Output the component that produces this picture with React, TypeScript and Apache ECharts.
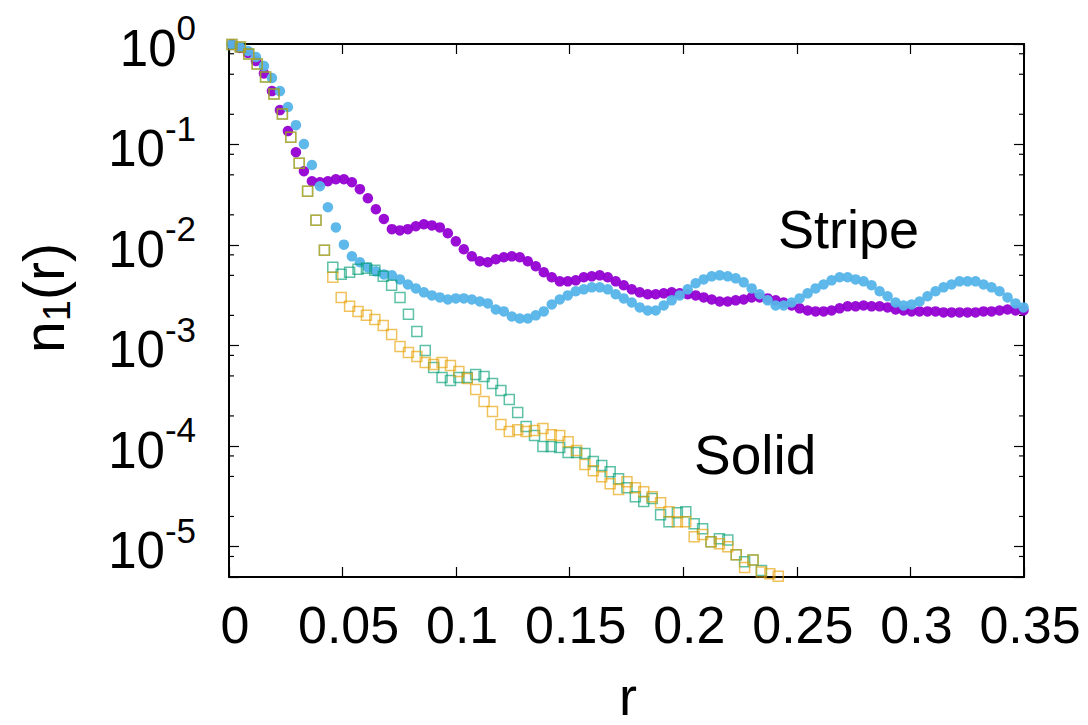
import React, { useEffect, useRef } from 'react';
import * as echarts from 'echarts';

// r grids (uniform sampling of the simulation data)
const R0 = 0.0013;
const CIRCLE_STEP = 0.00352;
const SQUARE_STEP = 0.0037;

// Stripe phase, dark violet filled circles
const stripeViolet = [
  0.99, 0.912, 0.814, 0.677, 0.51, 0.34, 0.22, 0.136, 0.0839, 0.0543,
  0.0432, 0.0422, 0.0432, 0.0452, 0.0452, 0.0422, 0.036, 0.0292, 0.0227, 0.0182,
  0.0144, 0.014, 0.0144, 0.0154, 0.0161, 0.0157, 0.015, 0.0131, 0.0109, 0.00908,
  0.00773, 0.0069, 0.00674, 0.00722, 0.00756, 0.00773, 0.00756, 0.0069, 0.00615, 0.00536,
  0.00478, 0.00436, 0.00436, 0.00446, 0.00478, 0.00489, 0.005, 0.00478, 0.00436, 0.00398,
  0.00363, 0.00339, 0.00324, 0.00324, 0.00331, 0.00339, 0.00331, 0.00324, 0.00316, 0.00302,
  0.00288, 0.00275, 0.00275, 0.00282, 0.00288, 0.00302, 0.00302, 0.00295, 0.00282, 0.00269,
  0.00251, 0.00235, 0.00224, 0.00219, 0.00219, 0.00224, 0.00235, 0.00246, 0.00246, 0.00251,
  0.00246, 0.00246, 0.0024, 0.00229, 0.00224, 0.00219, 0.00219, 0.00219, 0.00219, 0.00214,
  0.00214, 0.00214, 0.00214, 0.00214, 0.00219, 0.00219, 0.00224, 0.00229, 0.00224, 0.00224,
];

// Stripe phase, sky blue filled circles
const stripeBlue = [
  0.99, 0.933, 0.852, 0.742, 0.604, 0.459, 0.34, 0.236, 0.156, 0.101,
  0.0625, 0.0385, 0.0238, 0.015, 0.0101, 0.00773, 0.00674, 0.006, 0.00548, 0.00511,
  0.005, 0.00456, 0.00406, 0.00371, 0.00339, 0.00316, 0.00302, 0.00288, 0.00295, 0.00295,
  0.00288, 0.00275, 0.00263, 0.00229, 0.00219, 0.00195, 0.00186, 0.00186, 0.002, 0.00219,
  0.00257, 0.00288, 0.00316, 0.00347, 0.00363, 0.0038, 0.0038, 0.00363, 0.00324, 0.00295,
  0.00269, 0.0024, 0.00224, 0.00224, 0.00251, 0.00282, 0.00316, 0.00363, 0.00417, 0.00456,
  0.00489, 0.005, 0.00489, 0.00467, 0.00426, 0.00371, 0.00324, 0.00282, 0.00251, 0.00251,
  0.00269, 0.00295, 0.00331, 0.00371, 0.00406, 0.00446, 0.00478, 0.00478, 0.00456, 0.00436,
  0.00398, 0.00347, 0.0031, 0.00269, 0.00251, 0.00257, 0.00275, 0.0031, 0.00347, 0.0038,
  0.00406, 0.00436, 0.00436, 0.00436, 0.00406, 0.0038, 0.00347, 0.00302, 0.00263, 0.0024,
];

// Solid phase, green open squares
const solidGreen = [
  0.99, 0.934, 0.795, 0.632, 0.469, 0.318, 0.201, 0.1185, 0.0653, 0.0343,
  0.0177, 0.00887, 0.00601, 0.00512, 0.00536, 0.00574, 0.00587, 0.00561, 0.00489, 0.00398,
  0.00302, 0.00205, 0.00138, 0.000896, 0.000607, 0.000482, 0.00045, 0.000482, 0.000482, 0.000517,
  0.000493, 0.00042, 0.000358, 0.000291, 0.000216, 0.000157, 0.000128, 0.0000991, 0.0000991, 0.0000968,
  0.0000863, 0.0000863, 0.0000844, 0.0000703, 0.0000641, 0.0000558, 0.0000475, 0.0000387, 0.0000315, 0.0000281,
  0.0000301, 0.0000208, 0.0000177, 0.0000218, 0.0000223, 0.0000169, 0.0000151, 0.0000112, 0.000012, 0.0000117,
  0.0000083, 0.0000071, 0.0000074, 0.0000058,
];

// Solid phase, orange open squares
const solidOrange = [
  0.99, 0.934, 0.795, 0.632, 0.469, 0.318, 0.201, 0.1185, 0.0653, 0.0343,
  0.0177, 0.00887, 0.00478, 0.00302, 0.00246, 0.00219, 0.002, 0.00182, 0.00159, 0.00129,
  0.000982, 0.000855, 0.00078, 0.00068, 0.00065, 0.00068, 0.000635, 0.000553, 0.000471, 0.000366,
  0.000278, 0.000221, 0.000164, 0.00014, 0.000146, 0.00014, 0.000143, 0.00015, 0.00013, 0.000128,
  0.000111, 0.0000904, 0.0000656, 0.0000571, 0.0000498, 0.0000424, 0.000037, 0.0000444, 0.0000387, 0.0000353,
  0.0000315, 0.0000274, 0.0000223, 0.0000177, 0.0000177, 0.0000126, 0.0000132, 0.0000112, 0.0000107, 0.00001,
  0.0000083, 0.0000062, 0.0000074, 0.0000056, 0.0000054, 0.0000051,
];

const X_MIN = 0;
const X_MAX = 0.35;
const X_INTERVAL = 0.05;
const Y_MIN = 5e-6;
const Y_MAX = 1;
const minorMantissas = [2, 5, 8];
const minorDecades = [-6, -5, -4, -3, -2, -1];

const FONT = '"Liberation Sans", Arial, Helvetica, sans-serif';

function toPoints(values: number[], step: number) {
  return values.map((v, i) => [R0 + i * step, v]);
}

export default function App() {
  const ref = useRef<HTMLDivElement>(null);

  useEffect(() => {
    if (!ref.current) return;
    const chart = echarts.init(ref.current, null, { renderer: 'svg' });

    const minorTicks: number[][] = [];
    minorDecades.forEach((d) => {
      minorMantissas.forEach((m) => {
        const v = m * Math.pow(10, d);
        if (v > Y_MIN * 1.05 && v < Y_MAX) minorTicks.push([X_MIN, v]);
      });
    });

    const axisLineStyle = { color: '#000', width: 2 };
    const tickStyle = { color: '#000', width: 1.2 };

    const xCommon = {
      type: 'value' as const,
      min: X_MIN,
      max: X_MAX,
      interval: X_INTERVAL,
      splitLine: { show: false },
      axisLine: { show: true, onZero: false, lineStyle: axisLineStyle },
      axisTick: { show: true, inside: true, length: 10, lineStyle: tickStyle },
    };
    const yCommon = {
      type: 'log' as const,
      logBase: 10,
      min: Y_MIN,
      max: Y_MAX,
      splitLine: { show: false },
      axisLine: { show: true, onZero: false, lineStyle: axisLineStyle },
      axisTick: { show: true, inside: true, length: 10, lineStyle: tickStyle },
    };

    const yLabelFormatter = (v: number) => {
      const l = Math.log10(v);
      const e = Math.round(l);
      if (Math.abs(l - e) > 0.01) return '';
      return '{b|10}{s|' + e + '}';
    };

    const textStyle = (text: string, size: number, align: string) => ({
      text,
      font: size + 'px ' + FONT,
      fill: '#000',
      align,
      verticalAlign: 'middle',
      textAlign: align,
      textVerticalAlign: 'middle',
    });

    chart.setOption({
      animation: false,
      backgroundColor: '#fff',
      grid: { left: 229, right: 64, top: 44, bottom: 148, containLabel: false },
      xAxis: [
        {
          ...xCommon,
          position: 'bottom',
          axisLabel: {
            show: true,
            color: '#000',
            fontSize: 52,
            fontFamily: FONT,
            margin: 22,
            padding: [0, 0, 0, 12],
            formatter: (v: number) => String(Math.round(v * 100) / 100),
          },
        },
        {
          ...xCommon,
          position: 'top',
          axisLabel: { show: false },
        },
      ],
      yAxis: [
        {
          ...yCommon,
          position: 'left',
          axisLabel: {
            show: true,
            margin: 33,
            formatter: yLabelFormatter,
            padding: [8, 0, 0, 0],
            rich: {
              b: { fontSize: 51, lineHeight: 76, fontFamily: FONT, color: '#000' },
              s: { fontSize: 35, lineHeight: 35, verticalAlign: 'top', fontFamily: FONT, color: '#000' },
            },
          },
        },
        {
          ...yCommon,
          position: 'right',
          axisLabel: { show: false },
        },
      ],
      graphic: [
        { type: 'text', x: 778, y: 229, style: textStyle('Stripe', 54, 'left') },
        { type: 'text', x: 694, y: 455, style: textStyle('Solid', 55, 'left') },
        { type: 'text', x: 628, y: 696, style: textStyle('r', 54, 'center') },
        {
          type: 'text',
          x: 44,
          y: 298,
          rotation: Math.PI / 2,
          style: {
            text: '{a|n}{b|1}{a|(r)}',
            fill: '#000',
            align: 'center',
            verticalAlign: 'middle',
            textAlign: 'center',
            textVerticalAlign: 'middle',
            rich: {
              a: { fontSize: 57, lineHeight: 64, fontFamily: FONT, fill: '#000', color: '#000' },
              b: { fontSize: 38, lineHeight: 38, verticalAlign: 'bottom', fontFamily: FONT, fill: '#000', color: '#000' },
            },
          },
        },
      ],
      series: [
        {
          type: 'custom',
          name: 'minorTicks',
          silent: true,
          xAxisIndex: 0,
          yAxisIndex: 0,
          data: minorTicks,
          renderItem: (params: any, api: any) => {
            const v = api.value(1);
            const p0 = api.coord([X_MIN, v]);
            const p1 = api.coord([X_MAX, v]);
            return {
              type: 'group',
              children: [
                { type: 'line', shape: { x1: p0[0], y1: p0[1], x2: p0[0] + 5, y2: p0[1] }, style: { stroke: '#000', lineWidth: 1.2 } },
                { type: 'line', shape: { x1: p1[0] - 5, y1: p1[1], x2: p1[0], y2: p1[1] }, style: { stroke: '#000', lineWidth: 1.2 } },
              ],
            };
          },
        },
        {
          type: 'scatter',
          name: 'Stripe 1',
          data: toPoints(stripeViolet, CIRCLE_STEP),
          symbol: 'circle',
          symbolSize: 10.5,
          itemStyle: { color: '#9400d3', opacity: 0.95 },
        },
        {
          type: 'scatter',
          name: 'Stripe 2',
          data: toPoints(stripeBlue, CIRCLE_STEP),
          symbol: 'circle',
          symbolSize: 10.5,
          itemStyle: { color: '#56b4e9', opacity: 0.95 },
        },
        {
          type: 'scatter',
          name: 'Solid 1',
          data: toPoints(solidGreen, SQUARE_STEP),
          symbol: 'rect',
          symbolSize: 10,
          itemStyle: { color: 'rgba(0,0,0,0)', borderColor: 'rgba(0,158,115,0.8)', borderWidth: 1.5 },
        },
        {
          type: 'scatter',
          name: 'Solid 2',
          data: toPoints(solidOrange, SQUARE_STEP),
          symbol: 'rect',
          symbolSize: 10,
          itemStyle: { color: 'rgba(0,0,0,0)', borderColor: 'rgba(230,159,0,0.8)', borderWidth: 1.5 },
        },
      ],
    });

    return () => chart.dispose();
  }, []);

  return (
    <div
      ref={ref}
      style={{ position: 'fixed', left: 0, top: 0, width: 1088, height: 725, background: '#fff' }}
    />
  );
}
